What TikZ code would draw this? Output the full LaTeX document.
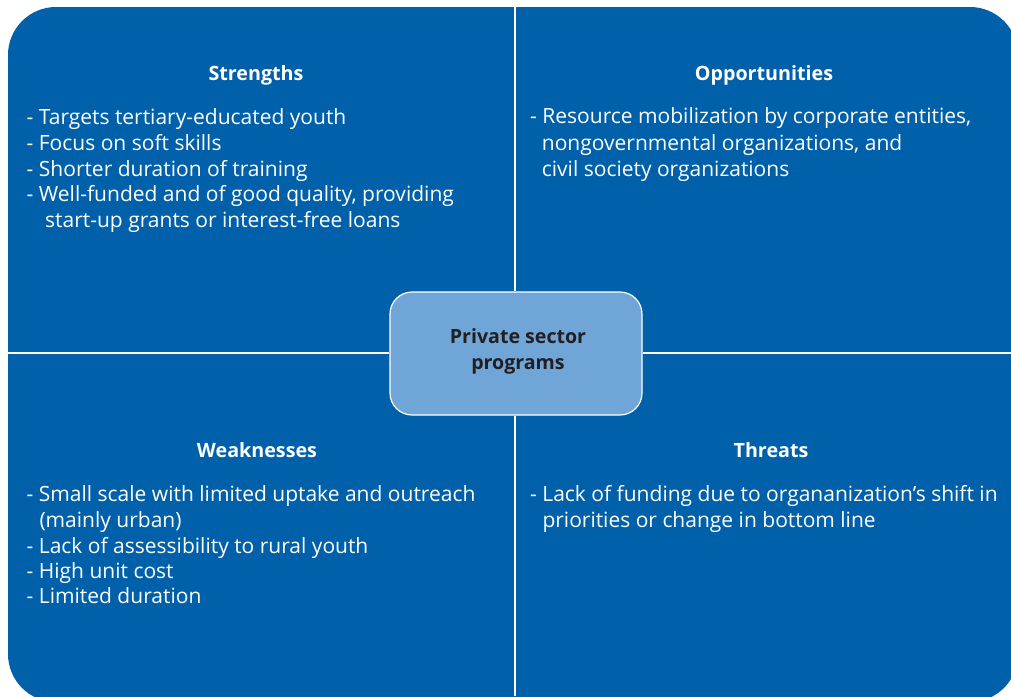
\documentclass[tikz,border=0pt]{standalone}
\usepackage{fontspec}
\setmainfont{Open Sans}
\definecolor{swotblue}{RGB}{0,97,170}
\definecolor{centerblue}{RGB}{112,166,215}
\definecolor{darktext}{RGB}{35,31,32}
\tikzset{
  body/.style={anchor=base west, inner sep=0pt, text=white, font=\fontsize{21}{25}\selectfont},
  head/.style={anchor=base, inner sep=0pt, text=white, font=\fontsize{19.7}{24}\selectfont\bfseries},
  divider/.style={draw=white, line width=1.5pt},
  centerbox/.style={draw=white, line width=1.2pt, fill=centerblue, rounded corners=22pt, minimum width=252pt, minimum height=123pt},
  ctext/.style={anchor=base, inner sep=0pt, text=darktext, font=\fontsize{19.6}{24}\selectfont\bfseries}
}
\begin{document}
\begin{tikzpicture}[x=1pt,y=-1pt]
\useasboundingbox (0,0) rectangle (1011,696);
\begin{scope}
\clip (0,0) rectangle (1011,696);
\fill[swotblue, rounded corners=48pt] (8,7) rectangle (1018,702);
\end{scope}
\coordinate (top) at (515,7);
\coordinate (bottom) at (515,696);
\coordinate (left) at (8,353);
\coordinate (right) at (1011,353);
\node[centerbox] (center) at (516,353.5) {};
\draw[divider] (top) -- (center.north -| top);
\draw[divider] (center.south -| bottom) -- (bottom);
\draw[divider] (left) -- (center.west |- left);
\draw[divider] (center.east |- right) -- (right);
\node[ctext] (c1) at (518,343.3) {Private sector};
\node[ctext] (c2) at (518,369) {programs};
% Strengths
\node[head] (sh) at (256,80.7) {Strengths};
\node[body] (s1) at (26.5,124) {- Targets tertiary-educated youth};
\node[body] (s2) at (26.5,150) {- Focus on soft skills};
\node[body] (s3) at (26.5,176) {- Shorter duration of training};
\node[body] (s4) at (26.5,201.7) {- Well-funded and of good quality, providing};
\node[body] (s5) at (45,227) {start-up grants or interest-free loans};
% Opportunities
\node[head] (oh) at (764,80) {Opportunities};
\node[body] (o1) at (530,123.3) {- Resource mobilization by corporate entities,};
\node[body] (o2) at (541.7,150) {nongovernmental organizations, and};
\node[body] (o3) at (541.7,176) {civil society organizations};
% Weaknesses
\node[head] (wh) at (257,457.3) {Weaknesses};
\node[body] (w1) at (26.5,501.7) {- Small scale with limited uptake and outreach};
\node[body] (w2) at (39.3,527.5) {(mainly urban)};
\node[body] (w3) at (26.5,553.3) {- Lack of assessibility to rural youth};
\node[body] (w4) at (26.5,578.5) {- High unit cost};
\node[body] (w5) at (26.5,603.5) {- Limited duration};
% Threats
\node[head] (th) at (771,457.3) {Threats};
\node[body] (t1) at (530,501.7) {- Lack of funding due to organanization’s shift in};
\node[body] (t2) at (542.3,527) {priorities or change in bottom line};
\end{tikzpicture}
\end{document}
